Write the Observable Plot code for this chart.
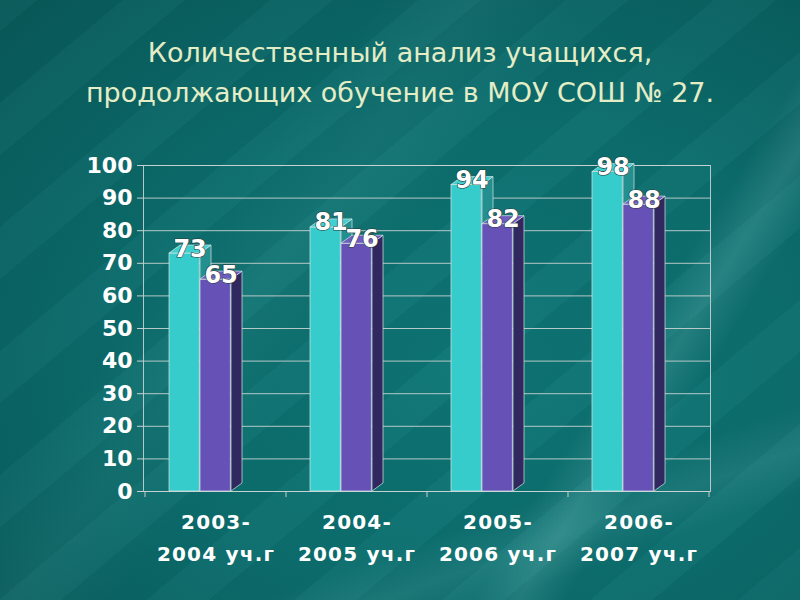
<!DOCTYPE html>
<html>
<head>
<meta charset="utf-8">
<script src="https://cdn.jsdelivr.net/npm/d3@7"></script>
<script src="https://cdn.jsdelivr.net/npm/@observablehq/plot@0.6"></script>
<style>
  html, body { margin: 0; padding: 0; }
  #page {
    position: relative; width: 800px; height: 600px; overflow: hidden;
    background:
      linear-gradient(122deg, rgba(255,255,255,0) 72%, rgba(190,240,240,0.13) 76%, rgba(255,255,255,0) 80%),
      linear-gradient(160deg, rgba(255,255,255,0) 78%, rgba(170,230,230,0.10) 83%, rgba(255,255,255,0) 88%),
      linear-gradient(128deg, rgba(255,255,255,0) 30%, rgba(170,230,230,0.05) 38%, rgba(255,255,255,0) 46%),
      repeating-linear-gradient(-40deg, rgba(255,255,255,0.018) 0 40px, rgba(0,0,0,0.03) 40px 95px),
      radial-gradient(ellipse at 60% 60%, #0e7676 0%, #0c6d6d 50%, #085959 100%);
    font-family: "DejaVu Sans", sans-serif;
  }
  #title {
    height: 130px; box-sizing: border-box; padding-top: 33px;
    text-align: center; color: #e4edc6; font-size: 27px; line-height: 40px;
    font-family: "DejaVu Sans", sans-serif;
  }
  g[aria-label="x-axis tick label"] text { letter-spacing: 1.2px; }
</style>
</head>
<body>
<div id="page">
  <div id="title">
    <div>Количественный анализ учащихся,</div>
    <div>продолжающих обучение в МОУ СОШ № 27.</div>
  </div>
  <div id="chart"></div>
</div>
<script>
const categories = ["2003-\n2004 уч.г", "2004-\n2005 уч.г", "2005-\n2006 уч.г", "2006-\n2007 уч.г"];
const series1 = [73, 81, 94, 98];
const series2 = [65, 76, 82, 88];
const yTicks = [0, 10, 20, 30, 40, 50, 60, 70, 80, 90, 100];

const data1 = categories.map((c, i) => ({cat: c, value: series1[i]}));
const data2 = categories.map((c, i) => ({cat: c, value: series2[i]}));

const DX = 11, DY = 8;          // 3D depth offset (px)
const BAR_W = 31;                // bar front width (px)
const OFF1 = 24, OFF2 = 55;      // bar offset inside category band (px)
const EDGE = "#d6e6e6";

function bandwidth(scales, dims) {
  if (scales.x && typeof scales.x.bandwidth === "function") return scales.x.bandwidth();
  return (dims.width - dims.marginLeft - dims.marginRight) / categories.length;
}

function depthFaces(values, off, topFill, sideFill) {
  return (index, scales, channels, dims) => {
    const g = d3.create("svg:g").attr("aria-label", "bar depth");
    const yb = scales.y(0);
    categories.forEach((c, i) => {
      const xl = scales.x(c) + off, xr = xl + BAR_W;
      const yt = scales.y(values[i]);
      g.append("path")
        .attr("d", `M${xr},${yt}L${xr + DX},${yt - DY}L${xr + DX},${yb - DY}L${xr},${yb}Z`)
        .attr("fill", sideFill).attr("stroke", EDGE).attr("stroke-width", 0.7);
      g.append("path")
        .attr("d", `M${xl},${yt}L${xl + DX},${yt - DY}L${xr + DX},${yt - DY}L${xr},${yt}Z`)
        .attr("fill", topFill).attr("stroke", EDGE).attr("stroke-width", 0.7);
    });
    return g.node();
  };
}

function xTickMarks(index, scales, channels, dims) {
  const g = d3.create("svg:g").attr("aria-label", "x-axis boundary ticks");
  const yb = scales.y(0);
  const bw = bandwidth(scales, dims);
  const xs = categories.map(c => scales.x(c));
  xs.push(xs[xs.length - 1] + bw);
  xs.forEach(x => {
    g.append("line").attr("x1", x).attr("x2", x).attr("y1", yb).attr("y2", yb + 6)
      .attr("stroke", "#c4cfcf").attr("stroke-width", 1);
  });
  return g.node();
}

const BW = (800 - 143 - 90) / categories.length;

const chart = Plot.plot({
  width: 800,
  height: 470,
  marginTop: 35,
  marginBottom: 109,
  marginLeft: 143,
  marginRight: 90,
  style: {background: "transparent", color: "white", fontFamily: "'DejaVu Sans', sans-serif", overflow: "visible"},
  x: {domain: categories, padding: 0},
  y: {domain: [0, 100]},
  marks: [
    Plot.gridY(yTicks, {stroke: "#c8d2d2", strokeOpacity: 0.9}),
    Plot.frame({stroke: "#c8d2d2", strokeOpacity: 0.9}),
    Plot.axisY(yTicks, {tickSize: 6, tickPadding: 5, fontSize: 22, fontWeight: "bold", fill: "white", stroke: "#c8d2d2", label: null}),
    Plot.axisX({tickSize: 0, tickPadding: 14, fontSize: 20, fontWeight: "bold", lineHeight: 1.62, fill: "white", label: null}),
    xTickMarks,
    Plot.barY(data1, {x: "cat", y: "value", fill: "#36cccc", stroke: EDGE, strokeWidth: 0.7,
      insetLeft: OFF1, insetRight: BW - OFF1 - BAR_W}),
    depthFaces(series1, OFF1, "#3fd0d0", "#23908f"),
    Plot.barY(data2, {x: "cat", y: "value", fill: "#6652b6", stroke: EDGE, strokeWidth: 0.7,
      insetLeft: OFF2, insetRight: BW - OFF2 - BAR_W}),
    depthFaces(series2, OFF2, "#6f5cc0", "#30285e"),
    Plot.text(data1, {x: "cat", y: "value", text: d => String(d.value), dx: OFF1 + BAR_W / 2 + DX / 2 - BW / 2, dy: 3,
      lineAnchor: "bottom", fontSize: 24, fontWeight: "bold", fill: "white", stroke: "#2b3b3b", strokeWidth: 1.2, paintOrder: "stroke"}),
    Plot.text(data2, {x: "cat", y: "value", text: d => String(d.value), dx: OFF2 + BAR_W / 2 + DX / 2 - BW / 2, dy: 3,
      lineAnchor: "bottom", fontSize: 24, fontWeight: "bold", fill: "white", stroke: "#2b3b3b", strokeWidth: 1.2, paintOrder: "stroke"})
  ]
});
document.getElementById("chart").appendChild(chart);
</script>
</body>
</html>
